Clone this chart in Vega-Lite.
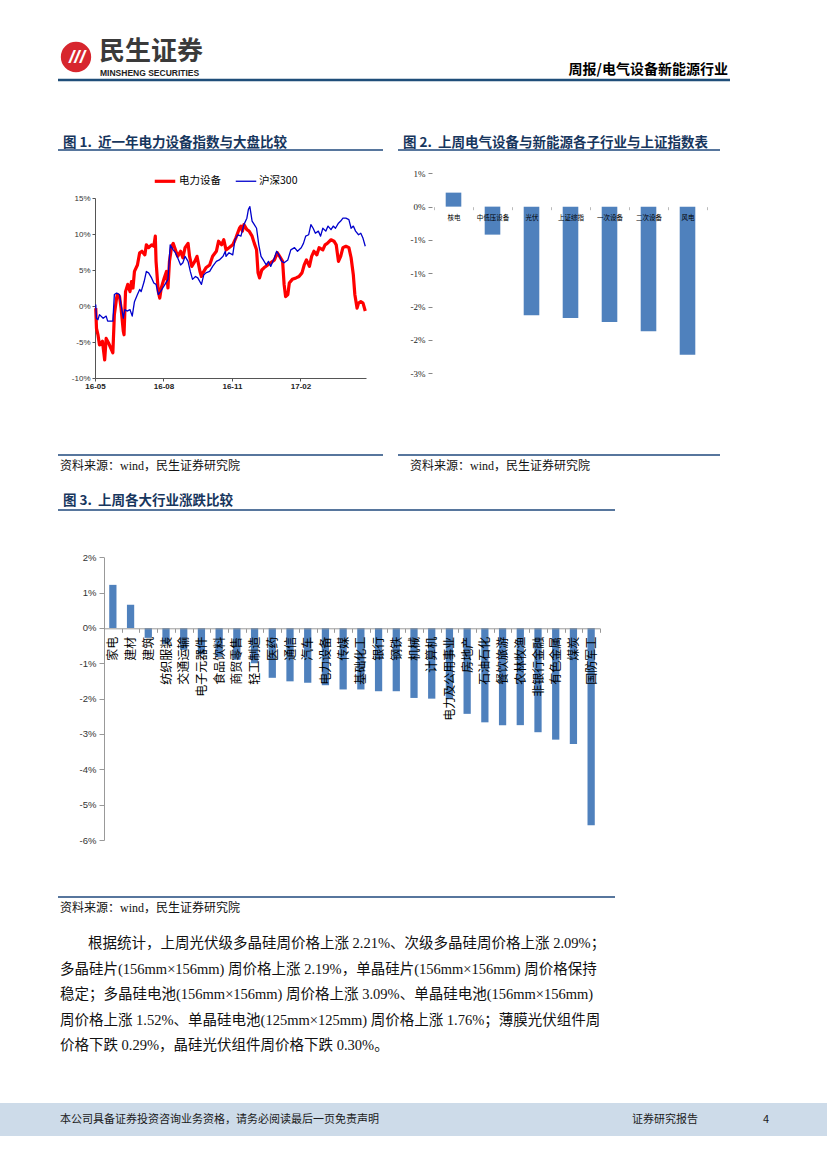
{
  "$schema": "https://vega.github.io/schema/vega-lite/v6.json",
  "width": 827,
  "height": 1169,
  "autosize": "none",
  "padding": 0,
  "background": "white",
  "config": {
    "view": {"stroke": null},
    "axis": {"labelFont": "Liberation Sans, Noto Sans CJK SC", "grid": false, "title": null},
    "text": {"font": "Noto Sans CJK SC"}
  },
  "resolve": {
    "scale": {"x": "independent", "y": "independent", "color": "independent", "strokeWidth": "independent"},
    "axis": {"x": "independent", "y": "independent"},
    "legend": {"color": "independent", "strokeWidth": "independent"}
  },
  "layer": [
    {
      "data": {"values": [{"zone": "页脚"}]},
      "mark": {"type": "rule", "color": "#cddbe9", "strokeWidth": 33, "strokeCap": "butt"},
      "encoding": {
        "y": {"field": "zone", "type": "nominal", "scale": {"type": "point", "range": [1119.5, 1119.5], "padding": 0}, "axis": null}
      }
    },
    {
      "data": {"values": [{"zone": "页眉", "from": "起", "to": "止"}]},
      "mark": {"type": "rule", "color": "#1f4e79", "strokeWidth": 2.5},
      "encoding": {
        "y": {"field": "zone", "type": "nominal", "scale": {"type": "point", "range": [80, 80], "padding": 0}, "axis": null},
        "x": {"field": "from", "type": "nominal", "scale": {"type": "point", "domain": ["起", "止"], "range": [58, 730], "padding": 0}, "axis": null},
        "x2": {"field": "to"}
      }
    },
    {
      "data": {"values": [{"zone": "标题", "from": "起", "to": "止"}, {"zone": "来源", "from": "起", "to": "止"}]},
      "mark": {"type": "rule", "color": "#1f497d", "strokeWidth": 1.5},
      "encoding": {
        "y": {"field": "zone", "type": "nominal", "scale": {"type": "point", "domain": ["标题", "来源"], "range": [150, 455], "padding": 0}, "axis": null},
        "x": {"field": "from", "type": "nominal", "scale": {"type": "point", "domain": ["起", "止"], "range": [58, 383], "padding": 0}, "axis": null},
        "x2": {"field": "to"}
      }
    },
    {
      "data": {"values": [{"zone": "标题", "from": "起", "to": "止"}, {"zone": "来源", "from": "起", "to": "止"}]},
      "mark": {"type": "rule", "color": "#1f497d", "strokeWidth": 1.5},
      "encoding": {
        "y": {"field": "zone", "type": "nominal", "scale": {"type": "point", "domain": ["标题", "来源"], "range": [150, 455], "padding": 0}, "axis": null},
        "x": {"field": "from", "type": "nominal", "scale": {"type": "point", "domain": ["起", "止"], "range": [398, 720], "padding": 0}, "axis": null},
        "x2": {"field": "to"}
      }
    },
    {
      "data": {"values": [{"zone": "标题", "from": "起", "to": "止"}, {"zone": "来源", "from": "起", "to": "止"}]},
      "mark": {"type": "rule", "color": "#1f497d", "strokeWidth": 1.5},
      "encoding": {
        "y": {"field": "zone", "type": "nominal", "scale": {"type": "point", "domain": ["标题", "来源"], "range": [510, 897], "padding": 0}, "axis": null},
        "x": {"field": "from", "type": "nominal", "scale": {"type": "point", "domain": ["起", "止"], "range": [58, 615], "padding": 0}, "axis": null},
        "x2": {"field": "to"}
      }
    },
    {
      "data": {"values": [{"logo": "民生证券"}]},
      "mark": {"type": "point", "shape": "circle", "filled": true, "color": "#d7262e", "size": 920, "opacity": 1},
      "encoding": {
        "x": {"field": "logo", "type": "nominal", "scale": {"type": "point", "range": [76, 76], "padding": 0}, "axis": null},
        "y": {"field": "logo", "type": "nominal", "scale": {"type": "point", "range": [57, 57], "padding": 0}, "axis": null}
      }
    },
    {
      "data": {"values": [{"logo": "///"}]},
      "mark": {"type": "text", "color": "white", "fontSize": 19, "fontWeight": "bold", "fontStyle": "italic", "font": "Liberation Sans", "align": "center", "baseline": "middle"},
      "encoding": {
        "text": {"field": "logo"},
        "x": {"field": "logo", "type": "nominal", "scale": {"type": "point", "range": [77, 77], "padding": 0}, "axis": null},
        "y": {"field": "logo", "type": "nominal", "scale": {"type": "point", "range": [57, 57], "padding": 0}, "axis": null}
      }
    },
    {
      "data": {"values": [{"t": "民生证券"}]},
      "mark": {"type": "text", "color": "#3a3a3a", "fontSize": 26, "fontWeight": "bold", "font": "Noto Sans CJK SC", "align": "left", "baseline": "middle"},
      "encoding": {
        "text": {"field": "t"},
        "x": {"field": "t", "type": "nominal", "scale": {"type": "point", "range": [99, 99], "padding": 0}, "axis": null},
        "y": {"field": "t", "type": "nominal", "scale": {"type": "point", "range": [52, 52], "padding": 0}, "axis": null}
      }
    },
    {
      "data": {"values": [{"t": "MINSHENG SECURITIES"}]},
      "mark": {"type": "text", "color": "#222222", "fontSize": 8.5, "fontWeight": "bold", "font": "Liberation Sans", "align": "left", "baseline": "middle"},
      "encoding": {
        "text": {"field": "t"},
        "x": {"field": "t", "type": "nominal", "scale": {"type": "point", "range": [100, 100], "padding": 0}, "axis": null},
        "y": {"field": "t", "type": "nominal", "scale": {"type": "point", "range": [73, 73], "padding": 0}, "axis": null}
      }
    },
    {
      "data": {"values": [{"t": "周报/电气设备新能源行业"}]},
      "mark": {"type": "text", "color": "#000000", "fontSize": 14, "fontWeight": "bold", "font": "Noto Sans CJK SC", "align": "right", "baseline": "middle"},
      "encoding": {
        "text": {"field": "t"},
        "x": {"field": "t", "type": "nominal", "scale": {"type": "point", "range": [728, 728], "padding": 0}, "axis": null},
        "y": {"field": "t", "type": "nominal", "scale": {"type": "point", "range": [70, 70], "padding": 0}, "axis": null}
      }
    },
    {
      "data": {"values": [
        {"col": "左", "row": "上", "t": "图 1.\u00a0\u00a0近一年电力设备指数与大盘比较"},
        {"col": "右", "row": "上", "t": "图 2.\u00a0\u00a0上周电气设备与新能源各子行业与上证指数表"},
        {"col": "左", "row": "下", "t": "图 3.\u00a0\u00a0上周各大行业涨跌比较"}
      ]},
      "mark": {"type": "text", "color": "#17365d", "fontSize": 13.5, "fontWeight": "bold", "font": "Noto Sans CJK SC", "align": "left", "baseline": "middle"},
      "encoding": {
        "text": {"field": "t"},
        "x": {"field": "col", "type": "nominal", "scale": {"type": "point", "domain": ["左", "右"], "range": [63, 403], "padding": 0}, "axis": null},
        "y": {"field": "row", "type": "nominal", "scale": {"type": "point", "domain": ["上", "下"], "range": [143, 501], "padding": 0}, "axis": null}
      }
    },
    {
      "data": {"values": [
        {"col": "左", "row": "上", "t": "资料来源：wind，民生证券研究院"},
        {"col": "右", "row": "上", "t": "资料来源：wind，民生证券研究院"},
        {"col": "左", "row": "下", "t": "资料来源：wind，民生证券研究院"}
      ]},
      "mark": {"type": "text", "color": "#111111", "fontSize": 12, "font": "Liberation Serif, Noto Sans CJK SC", "align": "left", "baseline": "middle"},
      "encoding": {
        "text": {"field": "t"},
        "x": {"field": "col", "type": "nominal", "scale": {"type": "point", "domain": ["左", "右"], "range": [60, 410], "padding": 0}, "axis": null},
        "y": {"field": "row", "type": "nominal", "scale": {"type": "point", "domain": ["上", "下"], "range": [466, 908], "padding": 0}, "axis": null}
      }
    },
    {
      "data": {"values": [
        {"part": "首行", "line": 1, "t": "根据统计，上周光伏级多晶硅周价格上涨 2.21%、次级多晶硅周价格上涨 2.09%；"},
        {"part": "续行", "line": 2, "t": "多晶硅片(156mm×156mm) 周价格上涨 2.19%，单晶硅片(156mm×156mm) 周价格保持"},
        {"part": "续行", "line": 3, "t": "稳定；多晶硅电池(156mm×156mm) 周价格上涨 3.09%、单晶硅电池(156mm×156mm)"},
        {"part": "续行", "line": 4, "t": "周价格上涨 1.52%、单晶硅电池(125mm×125mm) 周价格上涨 1.76%；薄膜光伏组件周"},
        {"part": "续行", "line": 5, "t": "价格下跌 0.29%，晶硅光伏组件周价格下跌 0.30%。"}
      ]},
      "mark": {"type": "text", "color": "#111111", "fontSize": 14.5, "font": "Liberation Serif, Noto Sans CJK SC", "align": "left", "baseline": "middle"},
      "encoding": {
        "text": {"field": "t"},
        "x": {"field": "part", "type": "nominal", "scale": {"type": "point", "domain": ["首行", "续行"], "range": [88, 60], "padding": 0}, "axis": null},
        "y": {"field": "line", "type": "ordinal", "scale": {"type": "point", "domain": [1, 2, 3, 4, 5], "range": [944, 1046], "padding": 0}, "axis": null}
      }
    },
    {
      "data": {"values": [{"t": "本公司具备证券投资咨询业务资格，请务必阅读最后一页免责声明"}]},
      "mark": {"type": "text", "color": "#1a1a1a", "fontSize": 11, "font": "Noto Sans CJK SC", "align": "left", "baseline": "middle"},
      "encoding": {
        "text": {"field": "t"},
        "x": {"field": "t", "type": "nominal", "scale": {"type": "point", "range": [60, 60], "padding": 0}, "axis": null},
        "y": {"field": "t", "type": "nominal", "scale": {"type": "point", "range": [1120, 1120], "padding": 0}, "axis": null}
      }
    },
    {
      "data": {"values": [{"slot": "报告", "t": "证券研究报告"}, {"slot": "页码", "t": "4"}]},
      "mark": {"type": "text", "color": "#1a1a1a", "fontSize": 11, "font": "Noto Sans CJK SC", "align": "left", "baseline": "middle"},
      "encoding": {
        "text": {"field": "t"},
        "x": {"field": "slot", "type": "nominal", "scale": {"type": "point", "domain": ["报告", "页码"], "range": [632, 763], "padding": 0}, "axis": null},
        "y": {"field": "slot", "type": "nominal", "scale": {"type": "point", "range": [1120, 1120], "padding": 0}, "axis": null}
      }
    },
    {
      "data": {"values": [
        {"date": "2016-05-02", "series": "电力设备", "value": -0.3},
        {"date": "2016-05-03", "series": "电力设备", "value": -3.1},
        {"date": "2016-05-05", "series": "电力设备", "value": -4.0},
        {"date": "2016-05-07", "series": "电力设备", "value": -5.4},
        {"date": "2016-05-11", "series": "电力设备", "value": -4.9},
        {"date": "2016-05-14", "series": "电力设备", "value": -7.5},
        {"date": "2016-05-16", "series": "电力设备", "value": -4.5},
        {"date": "2016-05-19", "series": "电力设备", "value": -5.1},
        {"date": "2016-05-22", "series": "电力设备", "value": -5.8},
        {"date": "2016-05-25", "series": "电力设备", "value": -6.5},
        {"date": "2016-05-27", "series": "电力设备", "value": -1.2},
        {"date": "2016-05-30", "series": "电力设备", "value": 1.1},
        {"date": "2016-05-31", "series": "电力设备", "value": 1.6},
        {"date": "2016-06-03", "series": "电力设备", "value": 1.3},
        {"date": "2016-06-05", "series": "电力设备", "value": -0.3},
        {"date": "2016-06-08", "series": "电力设备", "value": -3.5},
        {"date": "2016-06-09", "series": "电力设备", "value": -4.0},
        {"date": "2016-06-11", "series": "电力设备", "value": 2.0},
        {"date": "2016-06-14", "series": "电力设备", "value": 3.0},
        {"date": "2016-06-17", "series": "电力设备", "value": 2.0},
        {"date": "2016-06-19", "series": "电力设备", "value": 3.4},
        {"date": "2016-06-21", "series": "电力设备", "value": 2.5},
        {"date": "2016-06-23", "series": "电力设备", "value": 4.8},
        {"date": "2016-06-27", "series": "电力设备", "value": 5.7},
        {"date": "2016-06-30", "series": "电力设备", "value": 7.4},
        {"date": "2016-07-03", "series": "电力设备", "value": 7.6},
        {"date": "2016-07-07", "series": "电力设备", "value": 7.1},
        {"date": "2016-07-09", "series": "电力设备", "value": 8.5},
        {"date": "2016-07-12", "series": "电力设备", "value": 8.1},
        {"date": "2016-07-16", "series": "电力设备", "value": 8.5},
        {"date": "2016-07-19", "series": "电力设备", "value": 8.3},
        {"date": "2016-07-21", "series": "电力设备", "value": 9.7},
        {"date": "2016-07-22", "series": "电力设备", "value": 6.2},
        {"date": "2016-07-25", "series": "电力设备", "value": 2.0},
        {"date": "2016-07-27", "series": "电力设备", "value": 1.1},
        {"date": "2016-07-29", "series": "电力设备", "value": 2.5},
        {"date": "2016-08-02", "series": "电力设备", "value": 3.9},
        {"date": "2016-08-05", "series": "电力设备", "value": 4.8},
        {"date": "2016-08-07", "series": "电力设备", "value": 2.5},
        {"date": "2016-08-09", "series": "电力设备", "value": 6.2},
        {"date": "2016-08-12", "series": "电力设备", "value": 8.3},
        {"date": "2016-08-14", "series": "电力设备", "value": 8.7},
        {"date": "2016-08-17", "series": "电力设备", "value": 7.8},
        {"date": "2016-08-20", "series": "电力设备", "value": 6.9},
        {"date": "2016-08-24", "series": "电力设备", "value": 7.6},
        {"date": "2016-08-27", "series": "电力设备", "value": 6.7},
        {"date": "2016-08-30", "series": "电力设备", "value": 8.1},
        {"date": "2016-09-03", "series": "电力设备", "value": 8.7},
        {"date": "2016-09-05", "series": "电力设备", "value": 6.9},
        {"date": "2016-09-08", "series": "电力设备", "value": 5.5},
        {"date": "2016-09-12", "series": "电力设备", "value": 6.2},
        {"date": "2016-09-15", "series": "电力设备", "value": 6.9},
        {"date": "2016-09-19", "series": "电力设备", "value": 4.8},
        {"date": "2016-09-21", "series": "电力设备", "value": 4.1},
        {"date": "2016-09-23", "series": "电力设备", "value": 4.6},
        {"date": "2016-09-27", "series": "电力设备", "value": 5.3},
        {"date": "2016-10-02", "series": "电力设备", "value": 5.7},
        {"date": "2016-10-06", "series": "电力设备", "value": 6.9},
        {"date": "2016-10-11", "series": "电力设备", "value": 7.6},
        {"date": "2016-10-14", "series": "电力设备", "value": 9.0},
        {"date": "2016-10-18", "series": "电力设备", "value": 8.5},
        {"date": "2016-10-21", "series": "电力设备", "value": 9.2},
        {"date": "2016-10-24", "series": "电力设备", "value": 7.8},
        {"date": "2016-10-28", "series": "电力设备", "value": 8.1},
        {"date": "2016-11-02", "series": "电力设备", "value": 8.5},
        {"date": "2016-11-06", "series": "电力设备", "value": 9.4},
        {"date": "2016-11-11", "series": "电力设备", "value": 10.8},
        {"date": "2016-11-13", "series": "电力设备", "value": 11.1},
        {"date": "2016-11-15", "series": "电力设备", "value": 10.4},
        {"date": "2016-11-17", "series": "电力设备", "value": 11.3},
        {"date": "2016-11-21", "series": "电力设备", "value": 10.6},
        {"date": "2016-11-24", "series": "电力设备", "value": 10.4},
        {"date": "2016-11-28", "series": "电力设备", "value": 9.7},
        {"date": "2016-12-01", "series": "电力设备", "value": 8.7},
        {"date": "2016-12-04", "series": "电力设备", "value": 7.8},
        {"date": "2016-12-06", "series": "电力设备", "value": 4.6},
        {"date": "2016-12-08", "series": "电力设备", "value": 3.9},
        {"date": "2016-12-11", "series": "电力设备", "value": 5.0},
        {"date": "2016-12-14", "series": "电力设备", "value": 5.3},
        {"date": "2016-12-19", "series": "电力设备", "value": 5.7},
        {"date": "2016-12-23", "series": "电力设备", "value": 6.0},
        {"date": "2016-12-28", "series": "电力设备", "value": 6.4},
        {"date": "2017-01-01", "series": "电力设备", "value": 7.4},
        {"date": "2017-01-04", "series": "电力设备", "value": 6.9},
        {"date": "2017-01-08", "series": "电力设备", "value": 6.2},
        {"date": "2017-01-10", "series": "电力设备", "value": 3.0},
        {"date": "2017-01-12", "series": "电力设备", "value": 1.3},
        {"date": "2017-01-15", "series": "电力设备", "value": 1.6},
        {"date": "2017-01-17", "series": "电力设备", "value": 3.2},
        {"date": "2017-01-21", "series": "电力设备", "value": 3.7},
        {"date": "2017-01-26", "series": "电力设备", "value": 3.9},
        {"date": "2017-01-30", "series": "电力设备", "value": 4.1},
        {"date": "2017-02-03", "series": "电力设备", "value": 4.6},
        {"date": "2017-02-06", "series": "电力设备", "value": 5.7},
        {"date": "2017-02-09", "series": "电力设备", "value": 6.4},
        {"date": "2017-02-13", "series": "电力设备", "value": 5.5},
        {"date": "2017-02-16", "series": "电力设备", "value": 6.9},
        {"date": "2017-02-19", "series": "电力设备", "value": 7.6},
        {"date": "2017-02-23", "series": "电力设备", "value": 7.1},
        {"date": "2017-02-26", "series": "电力设备", "value": 8.1},
        {"date": "2017-03-03", "series": "电力设备", "value": 7.8},
        {"date": "2017-03-06", "series": "电力设备", "value": 8.5},
        {"date": "2017-03-09", "series": "电力设备", "value": 8.7},
        {"date": "2017-03-14", "series": "电力设备", "value": 9.2},
        {"date": "2017-03-18", "series": "电力设备", "value": 9.0},
        {"date": "2017-03-21", "series": "电力设备", "value": 8.5},
        {"date": "2017-03-24", "series": "电力设备", "value": 6.2},
        {"date": "2017-03-27", "series": "电力设备", "value": 6.9},
        {"date": "2017-03-30", "series": "电力设备", "value": 8.1},
        {"date": "2017-04-03", "series": "电力设备", "value": 8.3},
        {"date": "2017-04-07", "series": "电力设备", "value": 8.1},
        {"date": "2017-04-10", "series": "电力设备", "value": 6.7},
        {"date": "2017-04-13", "series": "电力设备", "value": 4.3},
        {"date": "2017-04-15", "series": "电力设备", "value": 1.6},
        {"date": "2017-04-18", "series": "电力设备", "value": -0.3},
        {"date": "2017-04-20", "series": "电力设备", "value": 0.4},
        {"date": "2017-04-23", "series": "电力设备", "value": 0.6},
        {"date": "2017-04-26", "series": "电力设备", "value": 0.4},
        {"date": "2017-04-29", "series": "电力设备", "value": -0.7},
        {"date": "2016-05-02", "series": "沪深300", "value": 0.2},
        {"date": "2016-05-03", "series": "沪深300", "value": -1.7},
        {"date": "2016-05-05", "series": "沪深300", "value": -1.9},
        {"date": "2016-05-07", "series": "沪深300", "value": -1.2},
        {"date": "2016-05-12", "series": "沪深300", "value": -1.7},
        {"date": "2016-05-16", "series": "沪深300", "value": -1.4},
        {"date": "2016-05-18", "series": "沪深300", "value": -2.1},
        {"date": "2016-05-23", "series": "沪深300", "value": -2.1},
        {"date": "2016-05-25", "series": "沪深300", "value": -2.1},
        {"date": "2016-05-27", "series": "沪深300", "value": 1.6},
        {"date": "2016-05-30", "series": "沪深300", "value": 1.8},
        {"date": "2016-06-03", "series": "沪深300", "value": 1.6},
        {"date": "2016-06-05", "series": "沪深300", "value": 0.2},
        {"date": "2016-06-08", "series": "沪深300", "value": -1.7},
        {"date": "2016-06-10", "series": "沪深300", "value": -0.5},
        {"date": "2016-06-13", "series": "沪深300", "value": -0.7},
        {"date": "2016-06-17", "series": "沪深300", "value": -0.5},
        {"date": "2016-06-20", "series": "沪深300", "value": -1.4},
        {"date": "2016-06-23", "series": "沪深300", "value": 0.6},
        {"date": "2016-06-27", "series": "沪深300", "value": 1.6},
        {"date": "2016-06-30", "series": "沪深300", "value": 2.3},
        {"date": "2016-07-02", "series": "沪深300", "value": 2.0},
        {"date": "2016-07-06", "series": "沪深300", "value": 3.4},
        {"date": "2016-07-09", "series": "沪深300", "value": 4.8},
        {"date": "2016-07-12", "series": "沪深300", "value": 4.6},
        {"date": "2016-07-16", "series": "沪深300", "value": 3.9},
        {"date": "2016-07-19", "series": "沪深300", "value": 3.2},
        {"date": "2016-07-22", "series": "沪深300", "value": 3.0},
        {"date": "2016-07-25", "series": "沪深300", "value": 1.6},
        {"date": "2016-07-28", "series": "沪深300", "value": 2.0},
        {"date": "2016-07-31", "series": "沪深300", "value": 2.5},
        {"date": "2016-08-03", "series": "沪深300", "value": 3.0},
        {"date": "2016-08-07", "series": "沪深300", "value": 3.7},
        {"date": "2016-08-10", "series": "沪深300", "value": 8.5},
        {"date": "2016-08-14", "series": "沪深300", "value": 7.8},
        {"date": "2016-08-17", "series": "沪深300", "value": 7.4},
        {"date": "2016-08-20", "series": "沪深300", "value": 6.7},
        {"date": "2016-08-24", "series": "沪深300", "value": 5.7},
        {"date": "2016-08-27", "series": "沪深300", "value": 6.0},
        {"date": "2016-08-30", "series": "沪深300", "value": 6.9},
        {"date": "2016-09-03", "series": "沪深300", "value": 6.2},
        {"date": "2016-09-06", "series": "沪深300", "value": 4.8},
        {"date": "2016-09-09", "series": "沪深300", "value": 3.7},
        {"date": "2016-09-13", "series": "沪深300", "value": 4.1},
        {"date": "2016-09-16", "series": "沪深300", "value": 3.9},
        {"date": "2016-09-21", "series": "沪深300", "value": 3.0},
        {"date": "2016-09-24", "series": "沪深300", "value": 4.3},
        {"date": "2016-09-27", "series": "沪深300", "value": 4.6},
        {"date": "2016-10-02", "series": "沪深300", "value": 4.8},
        {"date": "2016-10-06", "series": "沪深300", "value": 5.5},
        {"date": "2016-10-11", "series": "沪深300", "value": 6.2},
        {"date": "2016-10-15", "series": "沪深300", "value": 6.4},
        {"date": "2016-10-20", "series": "沪深300", "value": 6.9},
        {"date": "2016-10-23", "series": "沪深300", "value": 7.6},
        {"date": "2016-10-24", "series": "沪深300", "value": 6.9},
        {"date": "2016-10-28", "series": "沪深300", "value": 7.4},
        {"date": "2016-11-02", "series": "沪深300", "value": 7.1},
        {"date": "2016-11-05", "series": "沪深300", "value": 9.2},
        {"date": "2016-11-09", "series": "沪深300", "value": 9.9},
        {"date": "2016-11-13", "series": "沪深300", "value": 9.7},
        {"date": "2016-11-17", "series": "沪深300", "value": 11.3},
        {"date": "2016-11-21", "series": "沪深300", "value": 12.2},
        {"date": "2016-11-23", "series": "沪深300", "value": 13.4},
        {"date": "2016-11-25", "series": "沪深300", "value": 13.8},
        {"date": "2016-11-28", "series": "沪深300", "value": 11.8},
        {"date": "2016-12-01", "series": "沪深300", "value": 11.3},
        {"date": "2016-12-04", "series": "沪深300", "value": 10.8},
        {"date": "2016-12-07", "series": "沪深300", "value": 8.5},
        {"date": "2016-12-10", "series": "沪深300", "value": 6.9},
        {"date": "2016-12-13", "series": "沪深300", "value": 6.4},
        {"date": "2016-12-17", "series": "沪深300", "value": 5.7},
        {"date": "2016-12-20", "series": "沪深300", "value": 6.2},
        {"date": "2016-12-23", "series": "沪深300", "value": 5.5},
        {"date": "2016-12-28", "series": "沪深300", "value": 6.7},
        {"date": "2016-12-31", "series": "沪深300", "value": 7.6},
        {"date": "2017-01-03", "series": "沪深300", "value": 7.1},
        {"date": "2017-01-07", "series": "沪深300", "value": 6.2},
        {"date": "2017-01-10", "series": "沪深300", "value": 6.0},
        {"date": "2017-01-15", "series": "沪深300", "value": 6.4},
        {"date": "2017-01-19", "series": "沪深300", "value": 7.8},
        {"date": "2017-01-24", "series": "沪深300", "value": 8.1},
        {"date": "2017-01-28", "series": "沪深300", "value": 7.6},
        {"date": "2017-02-02", "series": "沪深300", "value": 8.1},
        {"date": "2017-02-05", "series": "沪深300", "value": 8.7},
        {"date": "2017-02-08", "series": "沪深300", "value": 9.7},
        {"date": "2017-02-12", "series": "沪深300", "value": 9.9},
        {"date": "2017-02-15", "series": "沪深300", "value": 11.3},
        {"date": "2017-02-18", "series": "沪深300", "value": 10.8},
        {"date": "2017-02-21", "series": "沪深300", "value": 10.1},
        {"date": "2017-02-25", "series": "沪深300", "value": 10.4},
        {"date": "2017-02-28", "series": "沪深300", "value": 9.7},
        {"date": "2017-03-03", "series": "沪深300", "value": 10.8},
        {"date": "2017-03-07", "series": "沪深300", "value": 10.4},
        {"date": "2017-03-10", "series": "沪深300", "value": 11.1},
        {"date": "2017-03-14", "series": "沪深300", "value": 10.6},
        {"date": "2017-03-17", "series": "沪深300", "value": 11.1},
        {"date": "2017-03-20", "series": "沪深300", "value": 10.8},
        {"date": "2017-03-24", "series": "沪深300", "value": 11.5},
        {"date": "2017-03-27", "series": "沪深300", "value": 11.8},
        {"date": "2017-03-30", "series": "沪深300", "value": 12.2},
        {"date": "2017-04-03", "series": "沪深300", "value": 12.2},
        {"date": "2017-04-07", "series": "沪深300", "value": 12.0},
        {"date": "2017-04-10", "series": "沪深300", "value": 10.8},
        {"date": "2017-04-13", "series": "沪深300", "value": 11.1},
        {"date": "2017-04-16", "series": "沪深300", "value": 10.4},
        {"date": "2017-04-20", "series": "沪深300", "value": 9.9},
        {"date": "2017-04-23", "series": "沪深300", "value": 10.1},
        {"date": "2017-04-26", "series": "沪深300", "value": 9.4},
        {"date": "2017-04-29", "series": "沪深300", "value": 8.3}
      ]},
      "mark": {"type": "line", "strokeJoin": "round"},
      "encoding": {
        "x": {
          "field": "date", "type": "temporal",
          "scale": {"type": "utc", "domain": [{"year": 2016, "month": 5, "date": 1, "utc": true}, {"year": 2017, "month": 4, "date": 30, "utc": true}], "range": [95, 366], "nice": false},
          "axis": {
            "orient": "bottom", "offset": -791,
            "values": [{"year": 2016, "month": 5, "date": 1, "utc": true}, {"year": 2016, "month": 8, "date": 1, "utc": true}, {"year": 2016, "month": 11, "date": 1, "utc": true}, {"year": 2017, "month": 2, "date": 1, "utc": true}],
            "labelExpr": "utcFormat(datum.value, '%y-%m')",
            "domainColor": "#555555", "tickColor": "#555555", "tickSize": 3,
            "labelFontSize": 8, "labelFontWeight": "bold", "labelColor": "#222222", "labelPadding": 1, "labelFlush": false, "labelAlign": "center"
          }
        },
        "y": {
          "field": "value", "type": "quantitative",
          "scale": {"domain": [-10, 15], "range": [378, 198], "nice": false},
          "axis": {
            "orient": "left", "offset": -95, "values": [-10, -5, 0, 5, 10, 15],
            "labelExpr": "datum.value + '%'",
            "domainColor": "#555555", "tickColor": "#555555", "tickSize": 3,
            "labelFontSize": 8, "labelColor": "#333333", "labelPadding": 2
          }
        },
        "color": {
          "field": "series", "type": "nominal",
          "scale": {"domain": ["电力设备", "沪深300"], "range": ["#ff0000", "#0000cc"]},
          "legend": {"orient": "none", "legendX": 153, "legendY": 169, "direction": "horizontal", "title": null, "symbolType": "stroke", "symbolSize": 420, "labelFontSize": 10.5, "labelFont": "Noto Sans CJK SC", "labelColor": "#000000", "columnPadding": 12, "labelOffset": 2, "padding": 0}
        },
        "strokeWidth": {
          "field": "series", "type": "ordinal",
          "scale": {"domain": ["电力设备", "沪深300"], "range": [3.2, 1.3]},
          "legend": {"orient": "none", "legendX": 153, "legendY": 169, "direction": "horizontal", "title": null, "symbolType": "stroke", "symbolSize": 420, "labelFontSize": 10.5, "labelFont": "Noto Sans CJK SC", "labelColor": "#000000", "columnPadding": 12, "labelOffset": 2, "padding": 0}
        }
      }
    },
    {
      "data": {"values": [
        {"name": "核电", "value": 0.21},
        {"name": "中低压设备", "value": -0.42},
        {"name": "光伏", "value": -1.63},
        {"name": "上证综指", "value": -1.67},
        {"name": "一次设备", "value": -1.73},
        {"name": "二次设备", "value": -1.87},
        {"name": "风电", "value": -2.22}
      ]},
      "mark": {"type": "bar", "color": "#4f81bd", "width": {"band": 0.4}},
      "encoding": {
        "x": {
          "field": "name", "type": "nominal", "sort": null,
          "scale": {"type": "band", "range": [434, 707], "paddingInner": 0, "paddingOuter": 0},
          "axis": {"orient": "bottom", "offset": -962.3, "domain": false, "tickBand": "extent", "tickSize": 3, "tickColor": "#bbbbbb", "labelAngle": 0, "labelFontSize": 6.5, "labelColor": "#000000", "labelPadding": 5, "zindex": 1}
        },
        "y": {
          "field": "value", "type": "quantitative",
          "scale": {"domain": [-2.5, 0.5], "range": [373.3, 173.3], "nice": false},
          "axis": {"orient": "left", "offset": -432, "values": [0.5, 0, -0.5, -1, -1.5, -2, -2.5],
            "labelExpr": "datum.value == 0 ? '0%' : (datum.value < 0 ? '-' : '') + floor(abs(datum.value) + 0.5) + '%'",
            "domain": false, "tickSize": 4, "tickColor": "#888888", "labelFontSize": 9, "labelFont": "Liberation Serif", "labelColor": "#222222", "labelPadding": 3}
        }
      }
    },
    {
      "data": {"values": [
        {"industry": "家电", "change": 1.22},
        {"industry": "建材", "change": 0.66},
        {"industry": "建筑", "change": -0.28},
        {"industry": "纺织服装", "change": -0.45},
        {"industry": "交通运输", "change": -0.62},
        {"industry": "电子元器件", "change": -0.75},
        {"industry": "食品饮料", "change": -0.82},
        {"industry": "商贸零售", "change": -0.9},
        {"industry": "轻工制造", "change": -1.0},
        {"industry": "医药", "change": -1.41},
        {"industry": "通信", "change": -1.51},
        {"industry": "汽车", "change": -1.55},
        {"industry": "电力设备", "change": -1.62},
        {"industry": "传媒", "change": -1.74},
        {"industry": "基础化工", "change": -1.74},
        {"industry": "银行", "change": -1.79},
        {"industry": "钢铁", "change": -1.79},
        {"industry": "机械", "change": -1.98},
        {"industry": "计算机", "change": -2.0},
        {"industry": "电力及公用事业", "change": -2.02},
        {"industry": "房地产", "change": -2.43},
        {"industry": "石油石化", "change": -2.67},
        {"industry": "餐饮旅游", "change": -2.75},
        {"industry": "农林牧渔", "change": -2.75},
        {"industry": "非银行金融", "change": -2.95},
        {"industry": "有色金属", "change": -3.16},
        {"industry": "煤炭", "change": -3.28},
        {"industry": "国防军工", "change": -5.58}
      ]},
      "mark": {"type": "bar", "color": "#4f81bd", "width": {"band": 0.41}},
      "encoding": {
        "x": {
          "field": "industry", "type": "nominal", "sort": null,
          "scale": {"type": "band", "range": [104, 600], "paddingInner": 0, "paddingOuter": 0},
          "axis": {"orient": "bottom", "offset": -540.7, "domainColor": "#999999", "tickColor": "#999999", "tickBand": "extent", "tickSize": 4, "labelAngle": -90, "labelFontSize": 12, "labelFont": "Noto Sans CJK SC", "labelColor": "#000000", "labelPadding": 4, "zindex": 1}
        },
        "y": {
          "field": "change", "type": "quantitative",
          "scale": {"domain": [-6, 2], "range": [840, 557.3], "nice": false},
          "axis": {"orient": "left", "offset": -104, "values": [-6, -5, -4, -3, -2, -1, 0, 1, 2],
            "labelExpr": "datum.value + '%'",
            "domainColor": "#999999", "tickColor": "#999999", "tickSize": 5, "labelFontSize": 9.5, "labelColor": "#333333", "labelPadding": 3}
        }
      }
    }
  ]
}
